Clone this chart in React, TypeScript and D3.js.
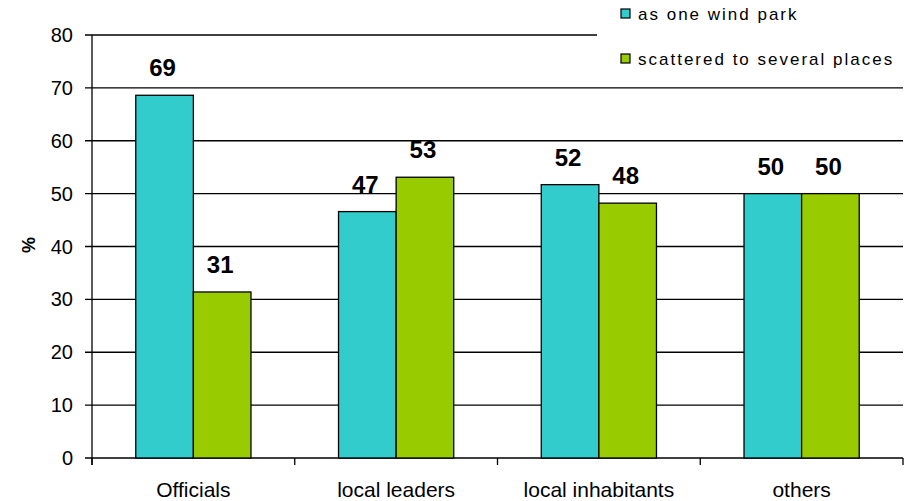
import * as d3 from 'd3';

const categories = ['Officials', 'local leaders', 'local inhabitants', 'others'];
const seriesNames = ['as one wind park', 'scattered to several places'];
const onePark = [68.6, 46.6, 51.7, 50.0];
const scattered = [31.4, 53.1, 48.2, 50.0];
const valueLabels = [
  ['69', '47', '52', '50'],
  ['31', '53', '48', '50'],
];
const yTicks = [0, 10, 20, 30, 40, 50, 60, 70, 80];
const colors = ['#33CCCC', '#99CC00'];

const W = 908;
const H = 501;
const font = '"Liberation Sans", Arial, sans-serif';

export default function App() {
  const x = d3.scaleBand<string>().domain(categories).range([92, 903]).padding(0);
  const inner = d3
    .scaleBand<string>()
    .domain(seriesNames)
    .range([0, x.bandwidth()])
    .paddingInner(0)
    .paddingOuter(0.76);
  const y = d3.scaleLinear().domain([0, 80]).range([458, 35]);
  const series = [onePark, scattered];

  return (
    <svg width={W} height={H} style={{ position: 'absolute', left: 0, top: 0, background: '#fff' }}>
      {/* gridlines + y ticks */}
      {yTicks.map((t) => (
        <g key={t}>
          <line x1={85} x2={903} y1={y(t)} y2={y(t)} stroke="#000" strokeWidth={1.3} />
          <text x={73} y={y(t) + 7} textAnchor="end" fontFamily={font} fontSize={20} fill="#000">
            {t}
          </text>
        </g>
      ))}
      {/* y axis */}
      <line x1={92} x2={92} y1={y(80)} y2={y(0) + 7} stroke="#000" strokeWidth={1.3} />
      {/* x ticks */}
      {categories.map((c) => (
        <line key={c} x1={x(c)!} x2={x(c)!} y1={y(0)} y2={y(0) + 7} stroke="#000" strokeWidth={1.3} />
      ))}
      <line x1={903} x2={903} y1={y(0)} y2={y(0) + 7} stroke="#000" strokeWidth={1.3} />

      {/* bars */}
      {series.map((vals, si) =>
        categories.map((c, ci) => {
          const bx = x(c)! + inner(seriesNames[si])!;
          return (
            <g key={c + si}>
              <rect
                x={bx}
                y={y(vals[ci])}
                width={inner.bandwidth()}
                height={y(0) - y(vals[ci])}
                fill={colors[si]}
                stroke="#000"
                strokeWidth={1.3}
              />
              <text
                x={bx + inner.bandwidth() / 2 - 2}
                y={y(vals[ci]) - 19}
                textAnchor="middle"
                fontFamily={font}
                fontWeight="bold"
                fontSize={24}
                fill="#000"
              >
                {valueLabels[si][ci]}
              </text>
            </g>
          );
        })
      )}

      {/* x labels */}
      {categories.map((c) => (
        <text
          key={c}
          x={x(c)! + x.bandwidth() / 2}
          y={497}
          textAnchor="middle"
          fontFamily={font}
          fontSize={21}
          fill="#000"
        >
          {c}
        </text>
      ))}

      {/* y title */}
      <text
        transform="translate(35,245) rotate(-90)"
        textAnchor="middle"
        fontFamily={font}
        fontWeight="bold"
        fontSize={18}
        fill="#000"
      >
        %
      </text>

      {/* legend */}
      <rect x={597} y={0} width={311} height={78} fill="#fff" />
      {seriesNames.map((s, i) => (
        <g key={s} transform={`translate(621, ${9 + i * 45})`}>
          <rect x={0} y={0} width={9} height={9} fill={colors[i]} stroke="#000" strokeWidth={1.2} />
          <text x={17} y={11} fontFamily={font} fontSize={17} letterSpacing={2} fill="#000">
            {s}
          </text>
        </g>
      ))}
    </svg>
  );
}
